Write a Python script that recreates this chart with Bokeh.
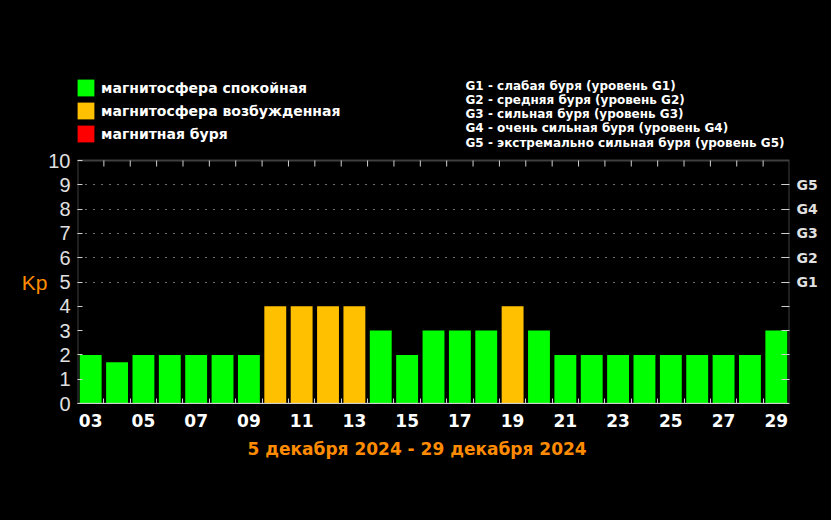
from bokeh.plotting import figure
from bokeh.models import (FixedTicker, LinearAxis, Range1d, Legend,
                          LegendItem, Label, Grid, Title, BoxAnnotation)
from bokeh.embed import file_html
from bokeh.resources import INLINE

# ---------------- data ----------------
days = ["03", "04", "05", "06", "07", "08", "09", "10", "11", "12", "13", "14", "15", "16",
        "17", "18", "19", "20", "21", "22", "23", "24", "25", "26", "27", "28", "29"]
kp = [2, 1.7, 2, 2, 2, 2, 2, 4, 4, 4, 4, 3, 2, 3, 3, 3, 4, 3, 2, 2, 2, 2, 2, 2, 2, 2, 3]

state_labels = ["магнитосфера спокойная", "магнитосфера возбужденная", "магнитная буря"]
state_colors = ["#00ff00", "#ffc000", "#ff0000"]
state_lower = [0, 4, 5]

g_levels = ["G1", "G2", "G3", "G4", "G5"]
g_kp = [5, 6, 7, 8, 9]
g_desc = ["G1 - слабая буря (уровень G1)",
          "G2 - средняя буря (уровень G2)",
          "G3 - сильная буря (уровень G3)",
          "G4 - очень сильная буря (уровень G4)",
          "G5 - экстремально сильная буря (уровень G5)"]
y_ticks = list(range(0, 11))
kp_max = 10
period = "5 декабря 2024 - 29 декабря 2024"

# ---------------- layout ----------------
W, H = 831, 520
L, R, B = 77, 42, 117
FH = H - B                 # frame spans from the top of the canvas to the x axis
CHART_H = 243              # pixel height of the Kp 0..10 scale
unit = CHART_H / kp_max    # pixels per Kp unit
y_top = FH / unit          # data value at the very top of the frame

AX = "#d0d0d0"
ORANGE = "#ff8c00"


def fx(x):
    return x - L


def fy(y):
    return FH - y


pos = list(range(1, len(days) + 1))

p = figure(width=W, height=H, output_backend="svg", toolbar_location=None,
           x_range=Range1d(0.5, len(days) + 0.5), y_range=Range1d(0, y_top),
           x_axis_location=None, y_axis_location=None,
           background_fill_color="black", border_fill_color="black",
           outline_line_color=None,
           min_border_left=L, min_border_right=R, min_border_top=0, min_border_bottom=B)
p.styles = {"background-color": "black"}
p.xgrid.visible = False
p.ygrid.visible = False

# bars coloured by magnetosphere state
bar_colors = []
for v in kp:
    k = max(i for i, lo in enumerate(state_lower) if v >= lo)
    bar_colors.append(state_colors[k])
p.vbar(x=pos, top=kp, width=0.83, bottom=0, fill_color=bar_colors, line_color=None)

# legend key: zero-height bars, one per state (only their swatches are visible)
key = p.vbar(x=pos[:len(state_colors)], top=[0] * len(state_colors), bottom=0, width=0.5,
             fill_color=state_colors, line_color=None)

# dotted storm-level grid
p.add_layout(Grid(dimension=1, ticker=FixedTicker(ticks=g_kp),
                  grid_line_color="#e0e0e0", grid_line_dash="1 7", grid_line_width=1.2))

# chart box (Kp 0..10)
p.add_layout(BoxAnnotation(left=0.5, right=len(days) + 0.5, bottom=0, top=kp_max,
                           fill_alpha=0, line_color=AX, line_width=2))

bounds = [x + 0.5 for x in pos[:-1]]

# top tick marks at day boundaries
p.segment(x0=bounds, y0=[kp_max] * len(bounds), x1=bounds,
          y1=[kp_max - 6 / unit] * len(bounds), line_color=AX, line_width=1)

# bottom axis
label_pos = [x for x, d in zip(pos, days) if int(d) % 2 == 1]
xb = LinearAxis(ticker=FixedTicker(ticks=label_pos, minor_ticks=bounds))
xb.major_label_overrides = {x: d for x, d in zip(pos, days)}
xb.major_tick_in = 0
xb.major_tick_out = 0
xb.minor_tick_in = 5
xb.minor_tick_out = 0
xb.minor_tick_line_color = AX
xb.axis_line_color = AX
xb.major_label_text_color = "white"
xb.major_label_text_font = "DejaVu Sans"
xb.major_label_text_font_style = "bold"
xb.major_label_text_font_size = "17px"
xb.major_label_standoff = 10
p.add_layout(xb, "below")

p.add_layout(Title(text=period, align="left", offset=170, text_color=ORANGE,
                   text_font="DejaVu Sans", text_font_style="bold", text_font_size="17px",
                   standoff=15), "below")

# left axis (Kp values)
yl = LinearAxis(ticker=FixedTicker(ticks=y_ticks))
yl.major_tick_in = 5
yl.major_tick_out = 0
yl.minor_tick_line_color = None
yl.major_tick_line_color = AX
yl.axis_line_color = None
yl.major_label_text_color = "#e0e0e0"
yl.major_label_text_font = "Liberation Sans"
yl.major_label_text_font_size = "20px"
yl.major_label_standoff = 7
p.add_layout(yl, "left")

# outer left axis carrying the "Kp" caption at mid scale
mid = (y_ticks[0] + y_ticks[-1]) / 2
yk = LinearAxis(ticker=FixedTicker(ticks=[mid]))
yk.major_label_overrides = {mid: "Kp"}
yk.major_tick_line_color = None
yk.minor_tick_line_color = None
yk.axis_line_color = None
yk.major_tick_in = 0
yk.major_tick_out = 0
yk.major_label_text_color = ORANGE
yk.major_label_text_font = "Liberation Sans"
yk.major_label_text_font_size = "21px"
yk.major_label_standoff = -2
p.add_layout(yk, "left")

# right axis with storm levels
yr = LinearAxis(ticker=FixedTicker(ticks=list(range(1, 10))))
yr.major_label_overrides = {k: (g_levels[g_kp.index(k)] if k in g_kp else "") for k in range(1, 10)}
yr.major_tick_in = 8
yr.major_tick_out = 0
yr.minor_tick_line_color = None
yr.major_tick_line_color = AX
yr.axis_line_color = None
yr.major_label_text_color = "#e0e0e0"
yr.major_label_text_font = "DejaVu Sans"
yr.major_label_text_font_style = "bold"
yr.major_label_text_font_size = "14px"
yr.major_label_standoff = 7
p.add_layout(yr, "right")

# state legend (top-left)
state_legend = Legend(items=[LegendItem(label=lab, renderers=[key], index=i)
                             for i, lab in enumerate(state_labels)],
                      location=(fx(75), fy(144)), orientation="vertical",
                      glyph_width=21, glyph_height=21, label_height=21, spacing=2,
                      padding=0, margin=0, label_standoff=5,
                      border_line_color=None, background_fill_alpha=0,
                      label_text_color="white", label_text_font="DejaVu Sans",
                      label_text_font_style="bold", label_text_font_size="14px")
p.add_layout(state_legend, "center")

# G-scale description (top-right)
g_y = [85, 99.3, 113.6, 127.9, 142.2]
for txt, yy in zip(g_desc, g_y):
    p.add_layout(Label(x=fx(465), y=fy(yy), x_units="screen", y_units="screen", text=txt,
                       text_color="white", text_font="DejaVu Sans", text_font_style="bold",
                       text_font_size="12px", text_baseline="middle", text_align="left"))

open("out.html", "w").write(file_html(p, INLINE))
